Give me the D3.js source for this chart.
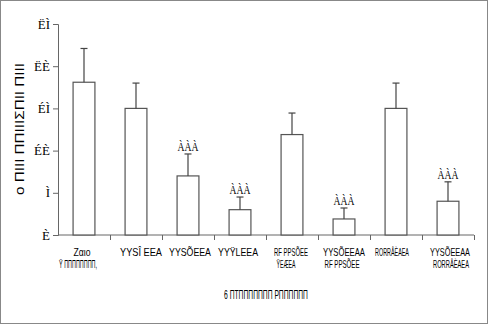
<!DOCTYPE html>
<html><head><meta charset="utf-8">
<script src="https://cdn.jsdelivr.net/npm/d3@7"></script>
<style>body{margin:0;background:#fff}svg{display:block}</style>
</head><body>
<script>
const categories = ["c1","c2","c3","c4","c5","c6","c7","c8"];
const labelLine1 = ["Zαιο","YYSÎ EEA","YYSÕEEA","YYŸLEEA","RF PPSÕEE","YYSÕEEAA","RORRÅÈAEA","YYSÕEEAA"];
const labelLine2 = ["Ÿ ΠΠΠΠΠΠΠΠ,","","","","ŸEÆEA","RF PPSÕEE","","RORRÅÈAEA"];
const means = [18.1, 15.0, 7.0, 3.0, 11.9, 1.9, 15.0, 4.0];
const errors = [4.0, 3.0, 2.6, 1.5, 2.55, 1.3, 3.0, 2.3];
const marks = ["","","ÀÀÀ","ÀÀÀ","","ÀÀÀ","","ÀÀÀ"];
const yTicks = [0,5,10,15,20,25];
const yTickLabels = ["È","Ì","ÉÈ","ÉÌ","ËÈ","ËÌ"];
const yTitle = "ο ΠΙΙΙ ΠΠΙΙΙΣΠΙΙ ΠΙΙΙ";
const xTitle = "6 ΠΤΠΠΠΠΠΠΠ ΡΠΠΠΠΠΠ";

// layout: label widths/offsets in pixels
const w1=[17,42,42,40,34,42,34,40], w2=[38,0,0,0,19,35,0,36];
const dx1=[-2,5,2,-2,-1,0,-4,2], dx2=[-6,0,0,0,-6,-2,0,3];

const W=488,H=324;
const svg=d3.select("body").append("svg").attr("width",W).attr("height",H);
svg.append("rect").attr("x",0.5).attr("y",0.5).attr("width",W-1).attr("height",H-1)
  .attr("fill","#fff").attr("stroke","#888");

const x=d3.scaleBand().domain(categories).range([58,474]).paddingInner(0.58).paddingOuter(0.29);
const y=d3.scaleLinear().domain([0,25]).range([235,24]);
const axisCol="#666";

const ya=svg.append("g").attr("transform","translate(58,0)")
  .call(d3.axisLeft(y).tickValues(yTicks).tickSize(5).tickFormat((d,i)=>yTickLabels[i]));
ya.select(".domain").attr("stroke",axisCol);
ya.selectAll(".tick line").attr("stroke",axisCol);
ya.selectAll(".tick text").attr("font-family","Liberation Serif, serif").attr("font-size",13)
  .attr("fill","#000").attr("x",-8);

const xb=d3.scaleLinear().domain([0,8]).range([58,474]);
const xa=svg.append("g").attr("transform","translate(0,235)")
  .call(d3.axisBottom(xb).tickValues([1,2,3,4,5,6,7,8]).tickSize(5).tickFormat(""));
xa.select(".domain").attr("stroke",axisCol).attr("d","M58,0H474");
xa.selectAll(".tick line").attr("stroke",axisCol);

const lf="Liberation Sans Narrow, Liberation Sans, sans-serif";
function squeezed(parent, str, cx, cy, width, size, rotate){
  const gg=parent.append("g");
  const t=gg.append("text").attr("text-anchor","middle").attr("font-family",lf)
    .attr("font-size",size).attr("fill","#000").text(str);
  const nat=t.node().getComputedTextLength();
  const s=width/nat;
  gg.attr("transform",`translate(${cx},${cy})`+(rotate?" rotate(-90)":"")+` scale(${s},1)`);
  return gg;
}

const g=svg.append("g");
categories.forEach((c,i)=>{
  const bx=x(c), bw=x.bandwidth(), cx=bx+bw/2;
  g.append("rect").attr("x",bx).attr("y",y(means[i])).attr("width",bw)
    .attr("height",y(0)-y(means[i])).attr("fill","#fff").attr("stroke","#555").attr("stroke-width",1.2);
  const top=y(means[i]+errors[i]);
  g.append("line").attr("x1",cx).attr("x2",cx).attr("y1",y(means[i])).attr("y2",top).attr("stroke","#444").attr("stroke-width",1.2);
  g.append("line").attr("x1",cx-3.5).attr("x2",cx+3.5).attr("y1",top).attr("y2",top).attr("stroke","#444").attr("stroke-width",1.2);
  if(marks[i]){
    const mg=g.append("g");
    const mt=mg.append("text").attr("text-anchor","middle").attr("font-family","Liberation Serif, serif")
      .attr("font-size",13).text(marks[i]);
    const s=21/mt.node().getComputedTextLength();
    mg.attr("transform",`translate(${cx},${top-3}) scale(${s},1)`);
  }
  squeezed(g,labelLine1[i],cx+dx1[i],256,w1[i],11,false);
  if(labelLine2[i]) squeezed(g,labelLine2[i],cx+dx2[i],268,w2[i],11,false);
});

squeezed(svg,yTitle,24,129,132,13,true);
squeezed(svg,xTitle,266,299,84,13,false);
</script>
</body></html>
